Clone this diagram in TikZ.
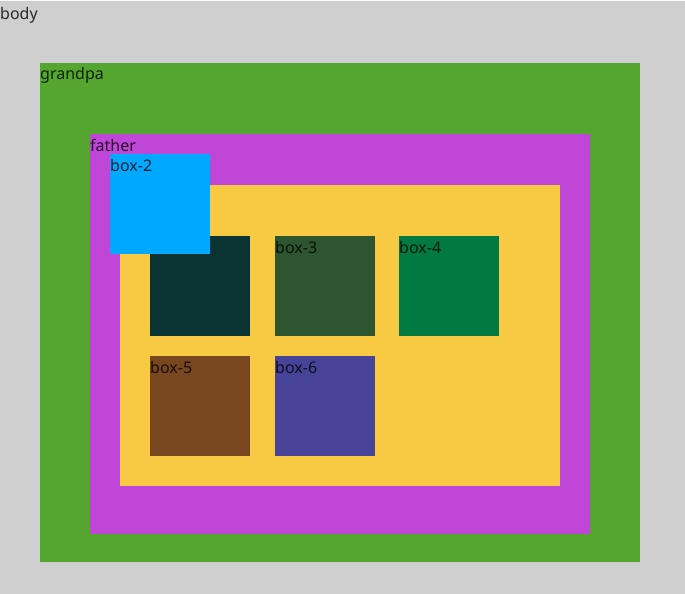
\documentclass[tikz,border=0pt]{standalone}
\usepackage{fontspec}
\setmainfont{Noto Sans}
\definecolor{bodygray}{RGB}{207,207,207}
\definecolor{grandpacol}{RGB}{85,166,48}
\definecolor{fathercol}{RGB}{191,70,214}
\definecolor{innercol}{RGB}{248,201,66}
\definecolor{boxa}{RGB}{10,51,51}
\definecolor{boxb}{RGB}{0,168,255}
\definecolor{boxc}{RGB}{45,85,48}
\definecolor{boxd}{RGB}{0,122,64}
\definecolor{boxe}{RGB}{120,70,31}
\definecolor{boxf}{RGB}{70,67,153}
\tikzset{lbl/.style={anchor=base west,inner sep=0pt,text opacity=.8,font=\fontsize{16}{19}\selectfont}}
\begin{document}
\begin{tikzpicture}[x=1pt,y=-1pt]
\useasboundingbox (0,0) rectangle (685,594);
\fill[bodygray] (0,0) rectangle (685,594);
\fill[white!88!bodygray] (0,0) rectangle (685,1.5);
\fill[grandpacol] (40,63) rectangle (640,562);
\fill[fathercol] (90,134) rectangle (590,534);
\fill[innercol] (120,185) rectangle (560,486);
% boxes
\fill[boxa] (150,236) rectangle +(100,100);
\fill[boxc] (275,236) rectangle +(100,100);
\fill[boxd] (399,236) rectangle +(100,100);
\fill[boxe] (150,356) rectangle +(100,100);
\fill[boxf] (275,356) rectangle +(100,100);
\fill[boxb] (110,154) rectangle +(100,100);
% labels
\node[lbl] (body) at (0,20) {body};
\node[lbl] (grandpa) at (40,80) {grandpa};
\node[lbl] (father) at (90,151) {father};
\node[lbl] (box2) at (110,171) {box-2};
\node[lbl] (box3) at (275,253) {box-3};
\node[lbl] (box4) at (399,253) {box-4};
\node[lbl] (box5) at (150,373) {box-5};
\node[lbl] (box6) at (275,373) {box-6};
\end{tikzpicture}
\end{document}
